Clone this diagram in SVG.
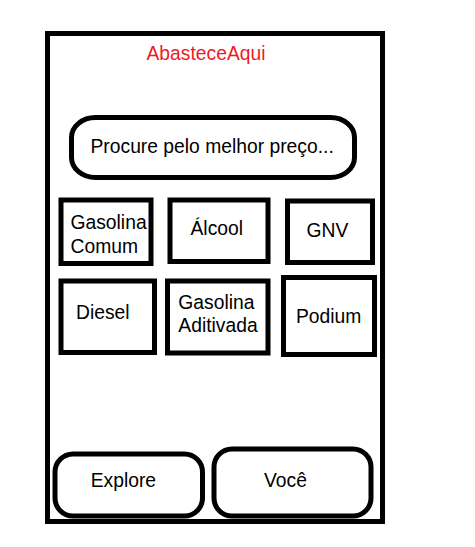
<svg xmlns="http://www.w3.org/2000/svg" width="475" height="547" viewBox="0 0 475 547">
<style>
.s{fill:#fff;stroke:#000;stroke-width:5}
.t{font-family:"Liberation Sans",Arial,sans-serif;font-size:19.3px;fill:#000}
</style>
<rect width="475" height="547" fill="#fff"/>
<g id="frame"><rect class="s" x="47.5" y="33.5" width="335" height="488"/></g>
<g id="title"><text class="t" x="146.5" y="60" style="fill:#ed1c24">AbasteceAqui</text></g>
<g id="search"><rect class="s" x="71.5" y="117.5" width="283" height="60" rx="24" ry="20"/><text class="t" x="90.5" y="152.5">Procure pelo melhor preço...</text></g>
<g id="gasolina-comum"><rect class="s" x="61" y="200" width="90" height="63.5"/><text class="t" x="70.5" y="229.3">Gasolina</text><text class="t" x="70.5" y="252.7">Comum</text></g>
<g id="alcool"><rect class="s" x="170" y="200" width="98" height="61.5"/><text class="t" x="190.5" y="235">Álcool</text></g>
<g id="gnv"><rect class="s" x="287.5" y="201" width="85" height="61.5"/><text class="t" x="306.5" y="236.7">GNV</text></g>
<g id="diesel"><rect class="s" x="61" y="281" width="93.5" height="71.5"/><text class="t" x="76" y="319.3">Diesel</text></g>
<g id="gasolina-aditivada"><rect class="s" x="167.5" y="281" width="100.5" height="72"/><text class="t" x="178.3" y="309.3">Gasolina</text><text class="t" x="178.3" y="331.7">Aditivada</text></g>
<g id="podium"><rect class="s" x="283.5" y="277.5" width="91" height="77"/><text class="t" x="296" y="323.3">Podium</text></g>
<g id="explore"><rect class="s" x="55" y="454" width="147.5" height="62" rx="18"/><text class="t" x="90.7" y="486.7">Explore</text></g>
<g id="voce"><rect class="s" x="214" y="449" width="157" height="67" rx="18"/><text class="t" x="264" y="487.3">Você</text></g>
<g id="connectors"/>
</svg>
